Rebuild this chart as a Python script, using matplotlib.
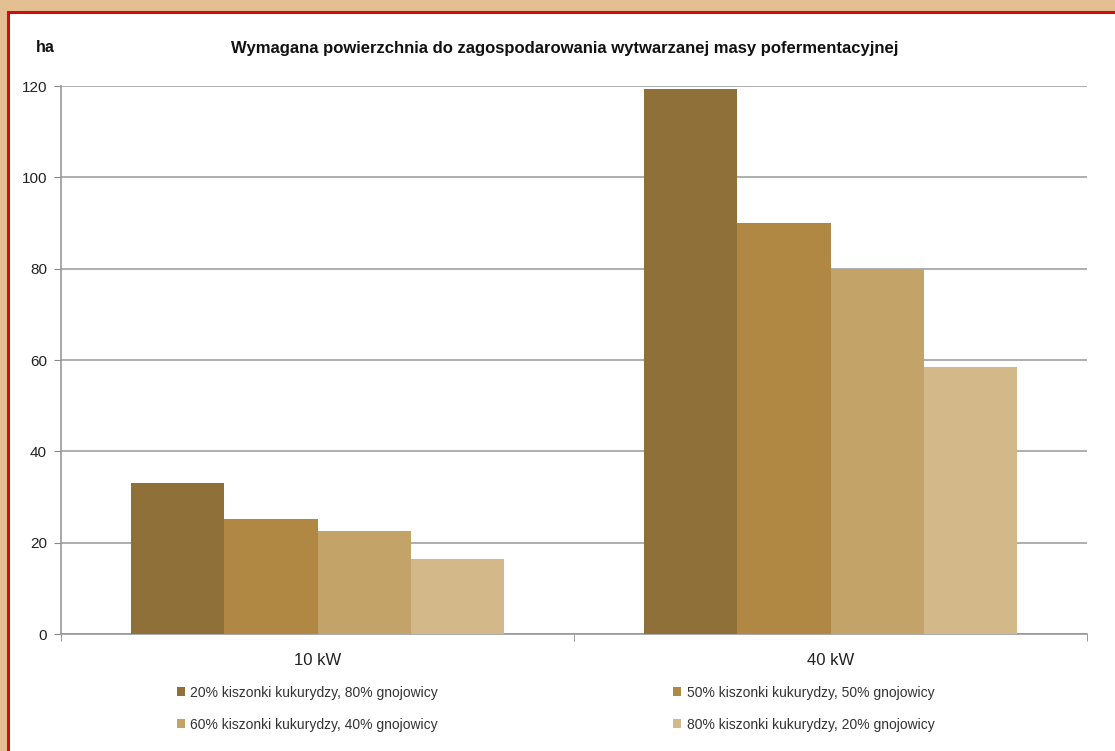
import matplotlib
matplotlib.use("Agg")
import matplotlib.pyplot as plt
import matplotlib.patches as mpatches
import numpy as np

plt.rcParams['font.family'] = ['Liberation Sans', 'DejaVu Sans']

categories = ["10 kW", "40 kW"]
series_names = [
    "20% kiszonki kukurydzy, 80% gnojowicy",
    "50% kiszonki kukurydzy, 50% gnojowicy",
    "60% kiszonki kukurydzy, 40% gnojowicy",
    "80% kiszonki kukurydzy, 20% gnojowicy",
]
s1 = [33.0, 119.3]
s2 = [25.1, 90.0]
s3 = [22.5, 80.0]
s4 = [16.4, 58.5]
series = [s1, s2, s3, s4]
colors = ["#8E7038", "#B08844", "#C4A369", "#D3B889"]
yticks = [0, 20, 40, 60, 80, 100, 120]

W, H = 1115, 751
fig = plt.figure(figsize=(W / 100, H / 100), dpi=100, facecolor="#E4BF92")

# white panel with red border
panel = mpatches.Rectangle((8 / W, -0.1), 1.2, 1 - 12 / H + 0.1,
                           transform=fig.transFigure, facecolor="white",
                           edgecolor="#CC1010", linewidth=2.2, zorder=-10)
fig.patches.append(panel)

ax = fig.add_axes([61 / W, 1 - 634 / H, (1087 - 61) / W, (634 - 86) / H])
ax.set_facecolor("none")
ax.set_zorder(5)

x = np.arange(len(categories))
w = 93 / 512
handles = []
for i, (vals, c) in enumerate(zip(series, colors)):
    b = ax.bar(x + (i - 1.5) * w, vals, width=w, color=c, zorder=3,
               label=series_names[i])
    handles.append(b)

ax.set_xlim(-0.5, 1.5)
ax.set_ylim(0, 120)
ax.set_yticks(yticks)
ax.set_yticklabels([str(t) for t in yticks], fontsize=11, color="#222222")
ax.yaxis.grid(True, color="#A8A8A8", linewidth=1.3, zorder=1)
ax.set_axisbelow(True)

ax.set_xticks(x)
ax.set_xticklabels(categories, fontsize=12, color="#222222")
ax.tick_params(axis="x", which="major", length=0, pad=14)
ax.set_xticks([-0.5, 0.5, 1.5], minor=True)
ax.tick_params(axis="x", which="minor", length=5, color="#888888")
ax.tick_params(axis="y", length=5, color="#888888", pad=5)

for s in ["top", "right"]:
    ax.spines[s].set_visible(False)
for s in ["left", "bottom"]:
    ax.spines[s].set_color("#999999")
    ax.spines[s].set_linewidth(1.2)

fig.text(565 / W, 1 - 48 / H,
         "Wymagana powierzchnia do zagospodarowania wytwarzanej masy pofermentacyjnej",
         ha="center", va="center", fontsize=12, fontweight="bold", color="#111111")
fig.text(45 / W, 1 - 47 / H, "ha", ha="center", va="center", fontsize=11.5,
         fontweight="bold", color="#111111")

order = [0, 2, 1, 3]
leg = fig.legend([handles[i] for i in order], [series_names[i] for i in order],
                 ncol=2, loc="upper left", bbox_to_anchor=(164 / W, 1 - 673 / H),
                 frameon=False, fontsize=10, handlelength=0.6, handleheight=0.6,
                 handletextpad=0.4, columnspacing=16.9, labelspacing=1.3,
                 labelcolor="#333333")

fig.savefig("out.png", dpi=100, facecolor=fig.get_facecolor())
